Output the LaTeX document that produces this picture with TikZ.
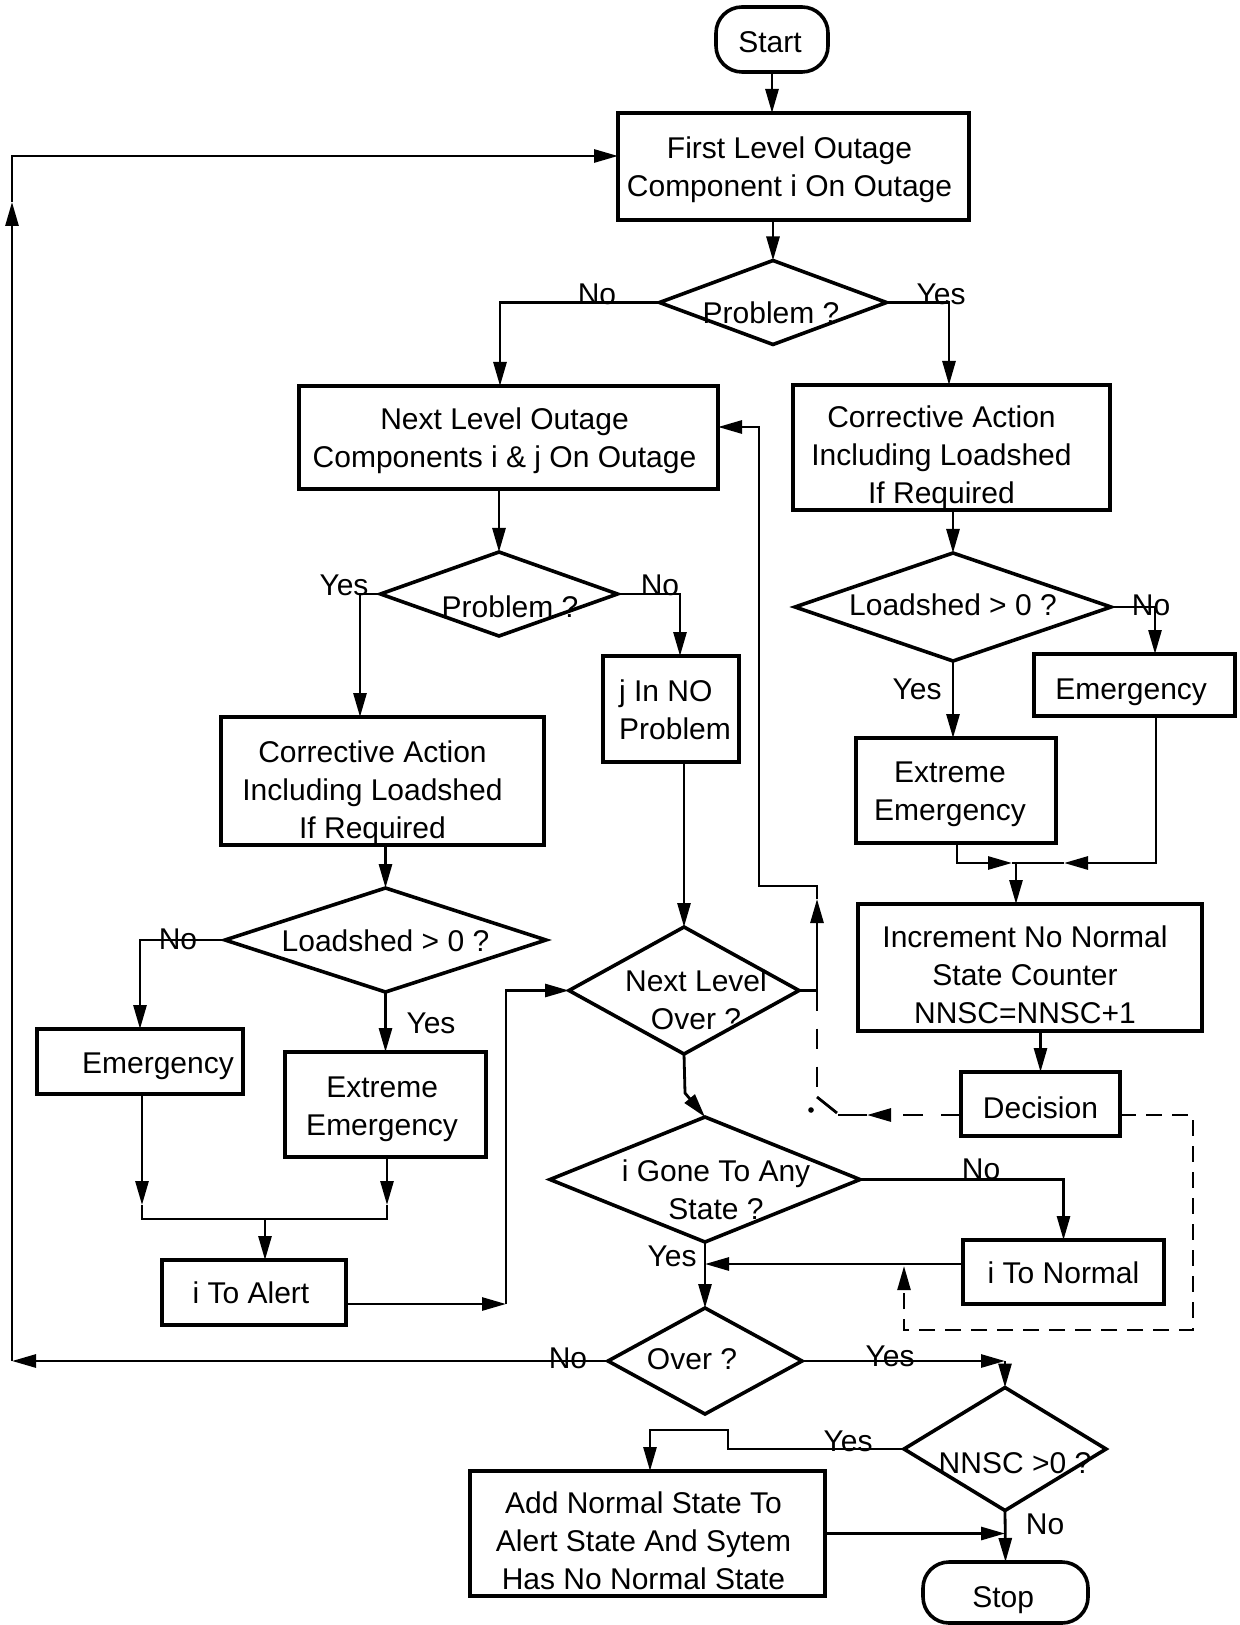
\documentclass[tikz,border=0pt]{standalone}
\usepackage{fontspec}
\setmainfont{Liberation Sans}
\usetikzlibrary{shapes.geometric,arrows.meta}

% text block centred on a node, shifted by (#1 right, #2 down); zero size so
% the node outline is fixed by its minimum width and height only
\newcommand{\tx}[3]{\smash{\makebox[0pt]{\hspace*{#1}\raisebox{-5.3pt}{\raisebox{-#2}{\begin{tabular}{@{}c@{}}#3\end{tabular}}}\hspace*{-#1}}}}
\newcommand{\txl}[3]{\smash{\makebox[0pt]{\hspace*{#1}\raisebox{-5.3pt}{\raisebox{-#2}{\begin{tabular}{@{}l@{}}#3\end{tabular}}}\hspace*{-#1}}}}

\tikzset{
  every node/.style={font=\fontsize{15pt}{19pt}\selectfont, inner sep=0pt, outer sep=0pt},
  box/.style={draw, rectangle, line width=1.8pt},
  dia/.style={draw, diamond, line width=1.8pt},
  term/.style={draw, rectangle, rounded corners=13pt, line width=1.8pt},
  lbl/.style={},
  tip/.style={-{Triangle[length=12pt,width=6.5pt]}},
  line/.style={line width=1.4pt},
  arr/.style={line width=1.4pt, tip},
  dshA/.style={line width=1.4pt, dash pattern=on 10pt off 9pt},
  dshB/.style={line width=1.2pt, dash pattern=on 8pt off 5pt},
}

\begin{document}
\begin{tikzpicture}[x=0.5pt,y=-0.5pt]
\useasboundingbox (0,0) rectangle (1240,1625);

% ---- blocks ----
\node[term, minimum width=56pt, minimum height=32.5pt] (start) at (772,39.5) {\tx{-1pt}{1pt}{Start}};
\node[box, minimum width=175.5pt, minimum height=53.5pt] (first) at (793.5,166.5) {\tx{-2pt}{0pt}{First Level Outage\\Component i On Outage}};
\node[dia, minimum width=113.5pt, minimum height=42pt] (d1) at (773,302.5) {\tx{-1pt}{5pt}{Problem ?}};
\node[box, minimum width=209.5pt, minimum height=51.5pt] (next) at (508.5,437.5) {\tx{-2pt}{0pt}{Next Level Outage\\Components i \& j On Outage}};
\node[box, minimum width=158.5pt, minimum height=62.5pt] (corr1) at (951.5,447.5) {\tx{-5pt}{3.5pt}{Corrective Action\\Including Loadshed\\If Required}};
\node[dia, minimum width=118.5pt, minimum height=42pt] (d2) at (499,594) {\tx{5.5pt}{6pt}{Problem ?}};
\node[box, minimum width=68pt, minimum height=53pt] (jbox) at (671,709) {\txl{2pt}{0pt}{j In NO\\Problem}};
\node[box, minimum width=161.5pt, minimum height=64pt] (corr2) at (382.5,781) {\tx{-5pt}{4pt}{Corrective Action\\Including Loadshed\\If Required}};
\node[dia, minimum width=160.5pt, minimum height=52pt] (d3) at (385.5,940) {\tx{0pt}{0pt}{Loadshed > 0 ?}};
\node[box, minimum width=103pt, minimum height=32.5pt] (emer2) at (140,1061.5) {\tx{9pt}{0.7pt}{Emergency}};
\node[box, minimum width=100.5pt, minimum height=52.5pt] (ext2) at (385.5,1104.5) {\tx{-1.7pt}{0.7pt}{Extreme\\Emergency}};
\node[box, minimum width=92pt, minimum height=32.5pt] (alert) at (254,1292.5) {\tx{-1.5pt}{0pt}{i To Alert}};
\node[dia, minimum width=115pt, minimum height=63.5pt] (dnlo) at (684,990.5) {\tx{6pt}{4.7pt}{Next Level\\Over ?}};
\node[dia, minimum width=155pt, minimum height=62.5pt] (dgone) at (705,1179.5) {\tx{5.5pt}{5pt}{i Gone To Any\\State ?}};
\node[box, minimum width=100.5pt, minimum height=32pt] (normal) at (1063.5,1272) {\tx{0pt}{0pt}{i To Normal}};
\node[dia, minimum width=97pt, minimum height=53pt] (dover) at (705,1361) {\tx{-6.5pt}{-1.5pt}{Over ?}};
\node[dia, minimum width=101pt, minimum height=61.5pt] (dnnsc) at (1005,1449) {\tx{5pt}{6.5pt}{NNSC >0 ?}};
\node[box, minimum width=177.5pt, minimum height=62.5pt] (add) at (647.5,1533.5) {\tx{-2pt}{3.7pt}{Add Normal State To\\Alert State And Sytem\\Has No Normal State}};
\node[term, minimum width=82.5pt, minimum height=30.5pt] (stop) at (1005.5,1592.5) {\tx{-1.2pt}{2.2pt}{Stop}};
\node[dia, minimum width=158pt, minimum height=54pt] (dR) at (953,607) {\tx{0pt}{-1.5pt}{Loadshed > 0 ?}};
\node[box, minimum width=100.5pt, minimum height=31pt] (emerR) at (1134.5,685) {\tx{-1.7pt}{1.5pt}{Emergency}};
\node[box, minimum width=100pt, minimum height=52.5pt] (extR) at (956,790.5) {\tx{-3pt}{0pt}{Extreme\\Emergency}};
\node[box, minimum width=172pt, minimum height=63.5pt] (incr) at (1030,967.5) {\tx{-2.5pt}{3.7pt}{Increment No Normal\\State Counter\\NNSC=NNSC+1}};
\node[box, minimum width=79.5pt, minimum height=32pt] (decision) at (1040.5,1104) {\tx{0pt}{1.5pt}{Decision}};

% ---- branch labels ----
\node[lbl] (l1) at (597,294) {\tx{0pt}{0pt}{No}};
\node[lbl] (l2) at (941,294) {\tx{0pt}{0pt}{Yes}};
\node[lbl] (l3) at (344,584) {\tx{0pt}{0pt}{Yes}};
\node[lbl] (l4) at (660,584) {\tx{0pt}{0pt}{No}};
\node[lbl] (l5) at (178,938) {\tx{0pt}{0pt}{No}};
\node[lbl] (l6) at (431,1022) {\tx{0pt}{0pt}{Yes}};
\node[lbl] (l7) at (1151,604) {\tx{0pt}{0pt}{No}};
\node[lbl] (l8) at (917,688) {\tx{0pt}{0pt}{Yes}};
\node[lbl] (l9) at (981,1168) {\tx{0pt}{0pt}{No}};
\node[lbl] (l10) at (672,1255) {\tx{0pt}{0pt}{Yes}};
\node[lbl] (l11) at (568,1357) {\tx{0pt}{0pt}{No}};
\node[lbl] (l12) at (890,1355) {\tx{0pt}{0pt}{Yes}};
\node[lbl] (l13) at (848,1440) {\tx{0pt}{0pt}{Yes}};
\node[lbl] (l14) at (1045,1523) {\tx{0pt}{0pt}{No}};

% ---- main flow ----
\draw[arr] (start.south) -- (start.south |- first.north);
\draw[arr] (first.south -| d1.north) -- (d1.north);
\draw[arr] (d1.west) -| (500,0 |- next.north);
\draw[arr] (d1.east) -| (949,0 |- corr1.north);

% left branch
\draw[arr] (next.south -| d2.north) -- (d2.north);
\draw[arr] (d2.west) -| (360,0 |- corr2.north);
\draw[arr] (d2.east) -| (680,0 |- jbox.north);
\draw[arr] (corr2.south -| d3.north) -- (d3.north);
\draw[arr] (d3.west) -| (emer2.north);
\draw[arr] (d3.south) -- (d3.south |- ext2.north);

\coordinate (mlL) at (142,1219);
\coordinate (mlR) at (387,1219);
\coordinate (ml) at (265,1219);
\draw[arr] (emer2.south -| mlL) -- ([yshift=7pt]mlL);
\draw[arr] (ext2.south -| mlR) -- ([yshift=7pt]mlR);
\draw[line] ([yshift=7pt]mlL) -- (mlL) -- (mlR) -- ([yshift=7pt]mlR);
\draw[arr] (ml) -- (ml |- alert.north);

\coordinate (ca) at (506,1304);
\draw[arr] (alert.east |- ca) -- (ca);
\draw[arr] (ca) |- (dnlo.west);
\draw[arr] (jbox.south -| dnlo.north) -- (dnlo.north);

% return to the next-level block
\coordinate (fa) at (817,990.5);
\coordinate (fb) at (817,886);
\coordinate (fc) at (759,886);
\draw[arr] (dnlo.east) -- (fa) -- ([yshift=-6.5pt]fb);
\draw[arr] ([yshift=-6.5pt]fb) -- (fb) -- (fc) |- (next.east |- 0,427);

% decision switch (dashed)
\coordinate (sw) at (817,1097);
\coordinate (swe) at (837,1113);
\coordinate (dl) at (867,1115);
\draw[dshA] (fa) -- (sw);
\draw[line] (sw) -- (swe);
\fill (811,1110) circle (1.4pt);
\draw[dshA, tip] (decision.west |- dl) -- (dl);
\draw[line] (dl) -- (838,1115);
\draw[dshB, tip] (decision.east |- dl) -- (1193,1115) -- (1193,1330) -- (904,1330) -- (904,1266);

% state update
\coordinate (ga) at (685,1093);
\draw[arr] (dnlo.south) -- (ga) -- (dgone.north);
\draw[arr] (dgone.east) -| (normal.north);
\draw[arr] (normal.west |- 0,1264) -- (dgone.south |- 0,1264);
\draw[arr] (dgone.south) -- (dover.north);

% loop back to the first level
\coordinate (L1) at (dover.west -| 12,0);
\coordinate (L2) at (12,156);
\coordinate (L3) at (12,202);
\draw[arr] (dover.west) -- (L1);
\draw[arr] (L1) -- (L3);
\draw[arr] (L3) -- (L2) -- (first.west |- L2);

% end of study
\coordinate (R1) at (dover.east -| dnnsc.north);
\draw[arr] (dover.east) -- (R1);
\draw[arr] (R1) -- (dnnsc.north);
\draw[arr] (dnnsc.west) -- (728,0 |- dnnsc.west) -- (728,1430) -- (650,1430) -- (650,0 |- add.north);
\draw[arr] (dnnsc.south) -- (stop.north);
\draw[arr] (add.east) -- (add.east -| dnnsc.south);

% right branch
\draw[arr] (corr1.south -| dR.north) -- (dR.north);
\draw[arr] (dR.east) -| (1155,0 |- emerR.north);
\draw[arr] (dR.south) -- (dR.south |- extR.north);
\coordinate (mrL) at (957,863);
\coordinate (mrR) at (1156,863);
\coordinate (mr) at (1016,863);
\draw[arr] (extR.south -| mrL) -- (mrL) -- (1012,863);
\draw[line] (1012,863) -- (mr);
\draw[arr] (emerR.south -| mrR) -- (mrR) -- (1064,863);
\draw[line] (1064,863) -- (mr);
\draw[arr] (mr) -- (mr |- incr.north);
\draw[arr] (incr.south -| decision.north) -- (decision.north);
\end{tikzpicture}
\end{document}
